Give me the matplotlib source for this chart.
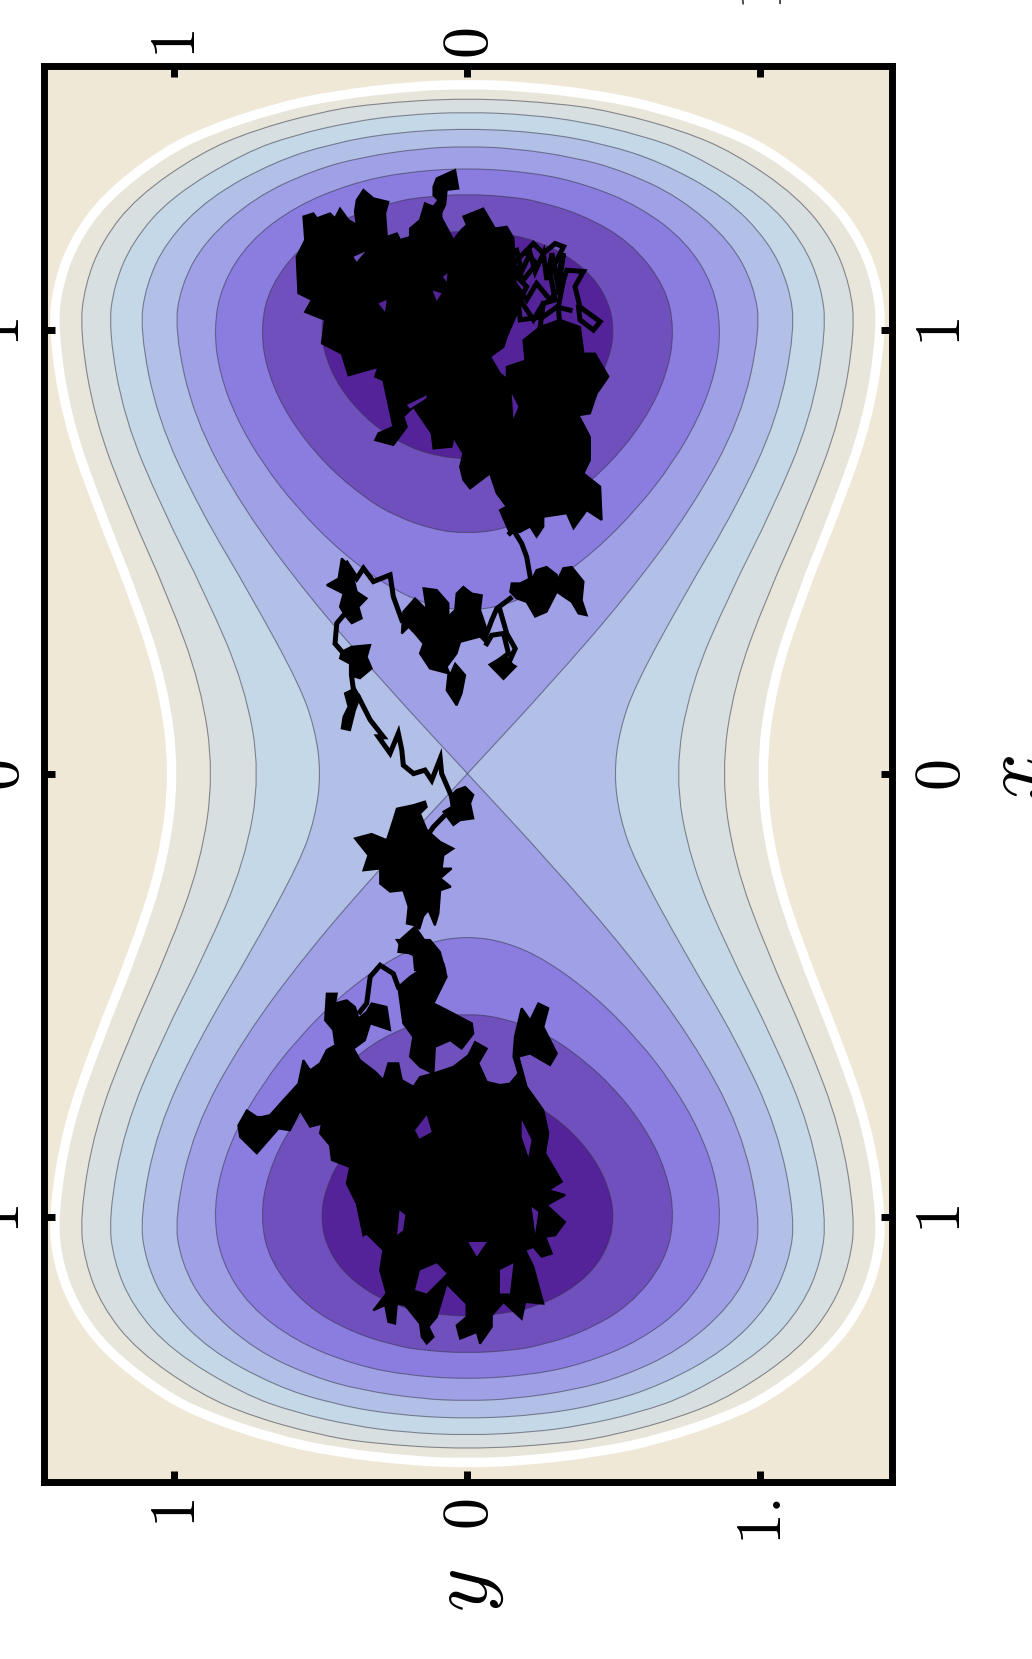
"""Double-well contour map with a two-well trajectory, drawn sideways."""

import matplotlib
matplotlib.use("Agg")
import matplotlib.pyplot as plt
import numpy as np
from matplotlib.patches import PathPatch
from matplotlib.path import Path
from matplotlib.transforms import ScaledTranslation

plt.rcParams["mathtext.fontset"] = "cm"

TICK_VALUES_X = [1, 0, -1]
TICK_VALUES_Y = [1, 0, -1]
BAND_COLORS = ["#e8e6da", "#d8dfe0", "#c5d8e8", "#b2bfe6", "#a0a0e6", "#8a7ddf", "#7050bd", "#54239a"]

# contour outlines, one quadrant each: (x, y)
C_200 = [(0, 1.0), (.2, 1.0385), (.4, 1.138), (.6, 1.261), (.8, 1.368), (1, 1.414), (1.1, 1.399), (1.2, 1.344),
         (1.3, 1.235), (1.4, 1.039), (1.45, .886), (1.5, .661), (1.53, .449), (1.55, .182), (1.554, 0)]
C_175 = [(0, .866), (.2, .91), (.4, 1.022), (.6, 1.158), (.8, 1.273), (1, 1.323), (1.1, 1.306), (1.2, 1.248),
         (1.3, 1.129), (1.4, .91), (1.45, .731), (1.49, .511), (1.51, .334), (1.524, 0)]
C_150 = [(0, .707), (.2, .761), (.4, .891), (.6, 1.044), (.8, 1.171), (1, 1.225), (1.1, 1.207), (1.2, 1.143),
         (1.3, 1.012), (1.4, .761), (1.44, .589), (1.47, .39), (1.485, .218), (1.492, 0)]
C_125 = [(0, .5), (.1, .52), (.2, .573), (.4, .738), (.6, .917), (.8, 1.058), (1, 1.118), (1.1, 1.098), (1.2, 1.028),
         (1.3, .88), (1.38, .657), (1.42, .466), (1.445, .257), (1.455, 0)]
C_100 = [(0, 0), (0, 0), (.2, .28), (.4, .543), (.6, .768), (.8, .933), (1, 1.0), (1.1, .978), (1.2, .898),
         (1.3, .724), (1.36, .527), (1.39, .362), (1.41, .154), (1.414, 0)]
C_075 = [(.366, 0), (.38, .134), (.42, .268), (.5, .433), (.6, .583), (.7, .7), (.8, .788), (.9, .845), (1, .866),
         (1.1, .84), (1.2, .746), (1.28, .585), (1.33, .398), (1.355, .226), (1.366, 0)]
C_050 = [(.541, 0), (.55, .116), (.58, .244), (.62, .348), (.7, .49), (.8, .609), (.9, .681), (1, .707),
         (1.1, .675), (1.2, .554), (1.26, .393), (1.29, .243), (1.3, .155), (1.307, 0)]
C_025 = [(.707, 0), (.72, .135), (.75, .242), (.8, .347), (.87, .437), (.94, .486), (1, .5), (1.06, .484),
         (1.12, .43), (1.17, .337), (1.2, .237), (1.215, .152), (1.225, 0)]

# trajectory, dense clumps as outlines and open stretches as lines: (y, x)
CLUMP_TOP = [(.56, 1.256), (.526, 1.263), (.514, 1.252), (.469, 1.263), (.452, 1.252), (.435, 1.274), (.406, 1.248),
             (.378, 1.237), (.384, 1.267), (.378, 1.293), (.355, 1.316), (.321, 1.297), (.27, 1.289), (.281, 1.263),
             (.275, 1.21), (.241, 1.218), (.23, 1.203), (.196, 1.21), (.196, 1.229), (.162, 1.248), (.145, 1.286),
             (.116, 1.278), (.093, 1.293), (.088, 1.252), (.048, 1.203), (.02, 1.226), (.002, 1.237), (.014, 1.256),
             (-.054, 1.274), (-.094, 1.229), (-.134, 1.233), (-.157, 1.207), (-.163, 1.128), (-.168, 1.037),
             (-.134, .985), (-.123, .962), (-.077, .94), (-.111, .902), (-.168, .872), (-.14, .842), (-.168, .797),
             (-.145, .767), (-.1, .707), (-.077, .677), (-.009, .643), (.014, .662), (.025, .692), (.014, .722),
             (.048, .759), (.054, .737), (.116, .733), (.122, .767), (.184, .827), (.219, .805), (.207, .782),
             (.253, .741), (.315, .752), (.304, .767), (.253, .782), (.287, .887), (.315, .895), (.304, .917),
             (.406, .898), (.429, .947), (.497, .97), (.486, 1.023), (.554, 1.041), (.531, 1.068), (.577, 1.083),
             (.583, 1.165), (.554, 1.203)]
CLUMP_TOP_RIGHT = [(-.191, .977), (-.248, 1.007), (-.316, 1.023), (-.384, 1.007), (-.396, .947), (-.435, .947),
                   (-.481, .895), (-.441, .857), (-.418, .812), (-.379, .808), (-.418, .759), (-.418, .707),
                   (-.396, .677), (-.453, .647), (-.458, .572), (-.407, .594), (-.362, .553), (-.339, .587),
                   (-.259, .579), (-.259, .557), (-.236, .534), (-.214, .557), (-.18, .545), (-.145, .542),
                   (-.111, .594), (-.134, .602), (-.1, .632), (-.077, .677), (-.145, .767), (-.202, .827), (-.202, .902)]
CLUMP_TOP_JOIN = [(-.134, .917), (-.202, .932), (-.214, .752), (-.134, .752)]
CLUMP_SPIKE = [(.116, 1.323), (.105, 1.342), (.042, 1.361), (.031, 1.319), (.071, 1.316), (.076, 1.282), (.099, 1.252),
               (.128, 1.267), (.099, 1.293), (.116, 1.304)]
CLUMP_C = [(-.151, .429), (-.18, .429), (-.225, .444), (-.236, .459), (-.27, .466), (-.305, .448), (-.305, .433),
           (-.327, .463), (-.356, .466), (-.396, .433), (-.39, .391), (-.407, .357), (-.379, .361), (-.356, .387),
           (-.305, .41), (-.27, .365), (-.231, .354), (-.202, .387), (-.168, .395), (-.146, .41)]
CLUMP_D = [(.224, .316), (.219, .365), (.179, .395), (.139, .369), (.15, .418), (.105, .414), (.065, .384),
           (.065, .354), (.042, .369), (.037, .406), (.014, .421), (-.015, .406), (-.049, .402), (-.043, .369),
           (-.066, .324), (-.066, .293), (-.043, .309), (.025, .297), (.037, .271), (.071, .241), (.059, .222),
           (.042, .248), (.008, .222), (.02, .181), (.037, .154), (.071, .188), (.065, .226), (.128, .237),
           (.162, .271), (.15, .293), (.179, .316), (.201, .331)]
CLUMP_BRANCH = [(-.083, .245), (-.111, .26), (-.14, .26), (-.157, .241), (-.123, .218)]
CLUMP_E = [(.429, .485), (.412, .474), (.389, .44), (.378, .41), (.344, .395), (.372, .376), (.361, .35), (.395, .339),
           (.418, .357), (.435, .376), (.423, .406), (.48, .425), (.44, .44)]
CLUMP_F = [(.429, .275), (.395, .286), (.332, .29), (.344, .263), (.327, .237), (.367, .215), (.401, .222),
           (.401, .248), (.435, .26)]
CLUMP_G = [(.418, .181), (.384, .192), (.367, .173), (.384, .143), (.401, .098), (.429, .102), (.423, .128), (.406, .151)]
CLUMP_H = [(.037, -.037), (.008, -.03), (-.02, -.048), (-.009, -.067), (-.02, -.101), (.025, -.105), (.048, -.116),
           (.082, -.086), (.054, -.075), (.059, -.052)]
CLUMP_I = [(.241, -.079), (.184, -.071), (.145, -.063), (.139, -.075), (.162, -.09), (.139, -.127), (.093, -.154),
           (.048, -.169), (.082, -.184), (.088, -.214), (.054, -.214), (.093, -.236), (.057, -.255), (.093, -.263),
           (.099, -.315), (.111, -.342), (.133, -.308), (.179, -.342), (.207, -.338), (.201, -.3), (.219, -.263),
           (.264, -.266), (.298, -.248), (.298, -.214), (.355, -.218), (.338, -.184), (.384, -.146), (.327, -.136),
           (.275, -.15), (.253, -.105)]
CLUMP_K = [(.179, -.345), (.139, -.383), (.082, -.428), (.076, -.443), (.179, -.443), (.184, -.406), (.236, -.402), (.23, -.375)]
CLUMP_U = [(.241, -.375), (.128, -.375), (.094, -.402), (.071, -.458), (.116, -.518), (.071, -.533), (-.015, -.563),
           (-.02, -.586), (.02, -.62), (.059, -.601), (.111, -.616), (.116, -.676), (.162, -.661), (.196, -.638),
           (.185, -.593), (.219, -.563), (.236, -.481), (.196, -.458), (.162, -.443), (.174, -.413), (.219, -.398)]
CLUMP_V = [(.48, -.496), (.446, -.496), (.452, -.518), (.412, -.511), (.384, -.526), (.372, -.552), (.344, -.537),
           (.327, -.518), (.276, -.526), (.264, -.578), (.332, -.563), (.35, -.601), (.389, -.62), (.452, -.608),
           (.458, -.578), (.486, -.556)]
CLUMP_BOTTOM = [(.753, -.759), (.719, -.774), (.702, -.774), (.674, -.77), (.628, -.736), (.577, -.699), (.56, -.646),
                (.537, -.669), (.503, -.653), (.48, -.623), (.44, -.608), (.389, -.62), (.367, -.646), (.315, -.672),
                (.287, -.691), (.27, -.653), (.236, -.653), (.224, -.691), (.184, -.706), (.162, -.684), (.116, -.676),
                (.048, -.661), (-.003, -.635), (-.026, -.605), (-.066, -.62), (-.037, -.653), (-.066, -.695),
                (-.111, -.702), (-.145, -.699), (-.174, -.676), (-.157, -.638), (-.162, -.593), (-.185, -.529),
                (-.214, -.556), (-.242, -.518), (-.276, -.529), (-.259, -.571), (-.305, -.631), (-.282, -.657),
                (-.214, -.631), (-.174, -.638), (-.202, -.706), (-.259, -.759), (-.276, -.811), (-.265, -.856),
                (-.322, -.92), (-.276, -.939), (-.333, -.95), (-.27, -.973), (-.333, -1.011), (-.299, -1.041),
                (-.265, -1.044), (-.288, -1.082), (-.253, -1.089), (-.225, -1.067), (-.197, -1.074), (-.225, -1.112),
                (-.259, -1.195), (-.197, -1.191), (-.185, -1.229), (-.123, -1.191), (-.083, -1.221), (-.083, -1.247),
                (-.043, -1.285), (-.032, -1.259), (.025, -1.274), (.037, -1.244), (.003, -1.225), (.003, -1.195),
                (.071, -1.15), (.105, -1.225), (.133, -1.247), (.116, -1.27), (.139, -1.285), (.156, -1.27),
                (.162, -1.24), (.213, -1.198), (.241, -1.195), (.247, -1.24), (.27, -1.236), (.281, -1.198),
                (.321, -1.21), (.276, -1.172), (.298, -1.119), (.287, -1.074), (.344, -1.037), (.355, -1.041),
                (.378, -.969), (.412, -.924), (.401, -.887), (.463, -.871), (.469, -.838), (.503, -.811), (.497, -.789),
                (.537, -.796), (.571, -.759), (.606, -.804), (.645, -.8), (.719, -.856), (.776, -.819), (.782, -.793)]

STRAND_LATTICE = [(-.157, 1.128), (-.202, 1.098), (-.18, 1.068), (-.225, 1.023), (-.259, 1.06), (-.299, 1.068),
                  (-.282, 1.128), (-.328, 1.188), (-.299, 1.195), (-.259, 1.173), (-.225, 1.195), (-.157, 1.15),
                  (-.191, 1.113), (-.236, 1.15), (-.202, 1.173)]
STRAND_LATTICE_2 = [(-.259, 1.06), (-.248, 1.007), (-.316, 1.007), (-.31, 1.052), (-.328, 1.113), (-.339, 1.135), (-.396, 1.132),
                    (-.367, 1.098), (-.384, 1.052), (-.453, 1.019), (-.43, 1.0), (-.384, 1.023), (-.379, 1.052)]
STRAND_LATTICE_3 = [(-.168, 1.18), (-.185, 1.132), (-.214, 1.173), (-.231, 1.132), (-.259, 1.173), (-.271, 1.113),
                    (-.288, 1.173), (-.305, 1.113), (-.328, 1.173), (-.31, 1.09), (-.282, 1.068), (-.236, 1.105),
                    (-.202, 1.068), (-.168, 1.098), (-.18, 1.023), (-.259, 1.03), (-.305, 1.052), (-.35, 1.045)]
STRAND_LINK = [(-.145, .542), (-.157, .549), (-.185, .519), (-.202, .489), (-.214, .444)]
STRAND_C_D = [(-.146, .395), (-.1, .372), (-.083, .346), (-.066, .316)]
STRAND_BRANCH = [(-.111, .369), (-.134, .316), (-.163, .282), (-.14, .248), (-.157, .241), (-.123, .218), (-.083, .245),
                 (-.111, .256), (-.14, .271), (-.123, .316), (-.083, .312), (-.066, .293)]
STRAND_D_E = [(.224, .346), (.253, .399), (.264, .448), (.321, .433), (.355, .463), (.378, .44), (.412, .474)]
STRAND_E_F = [(.423, .357), (.446, .339), (.452, .293), (.423, .271)]
STRAND_F_G = [(.395, .218), (.389, .188)]
STRAND_SADDLE = [(.372, .173), (.332, .121), (.287, .083), (.304, .083), (.264, .046), (.236, .091), (.224, .053),
                 (.219, .019), (.184, 0), (.145, .008), (.122, -.015), (.093, .034), (.088, 0), (.054, -.052)]
STRAND_H_I = [(.082, -.097), (.116, -.12), (.139, -.142)]
STRAND_I_K = [(.15, -.308), (.167, -.345)]
STRAND_LOOP = [(.236, -.481), (.253, -.451), (.298, -.432), (.332, -.458), (.344, -.518), (.367, -.537)]

# gaps in the dense clumps where the map shows through, with the band they show: (y, x)
GAPS_MID = [[(.349, 1.177), (.389, 1.165), (.378, 1.154)]]
GAPS_DEEP = [[(.119, 1.089), (.088, 1.083), (.105, 1.066)],
             [(.304, 1.06), (.276, 1.068), (.281, 1.041)],
             [(.084, 1.12), (.068, 1.128), (.071, 1.109)],
             [(.207, .831), (.139, .853), (.141, .846), (.196, .823)],
             [(-.151, .857), (-.174, .827), (-.157, .801)],
             [(.232, -.985), (.212, -.995), (.22, -1.03), (.24, -1.04)],
             [(.162, -1.12), (.105, -1.104), (.071, -1.127), (.139, -1.172), (.179, -1.164)],
             [(-.003, -1.056), (-.066, -1.056), (-.032, -1.089)],
             [(.179, -.804), (.139, -.77), (.122, -.808), (.164, -.823)],
             [(-.185, -.781), (-.219, -.826), (-.208, -.864), (-.185, -.819)],
             [(-.219, -.977), (-.242, -.988), (-.231, -1.037)],
             [(-.111, -1.119), (-.157, -1.104), (-.145, -1.172), (-.111, -1.172)]]

CLUMPS = [CLUMP_TOP, CLUMP_TOP_RIGHT, CLUMP_TOP_JOIN, CLUMP_SPIKE, CLUMP_C, CLUMP_D, CLUMP_BRANCH, CLUMP_E, CLUMP_F,
          CLUMP_G, CLUMP_H, CLUMP_I, CLUMP_K, CLUMP_U, CLUMP_V, CLUMP_BOTTOM]
STRANDS = [STRAND_LATTICE, STRAND_LATTICE_2, STRAND_LATTICE_3, STRAND_LINK, STRAND_C_D, STRAND_BRANCH, STRAND_D_E,
           STRAND_E_F, STRAND_F_G, STRAND_SADDLE, STRAND_H_I, STRAND_I_K, STRAND_LOOP]


def smooth_path(points):
    """Closed quadratic spline with the points as control points."""
    mids = (points + np.roll(points, -1, axis=0)) / 2
    verts = [mids[-1]]
    codes = [Path.MOVETO]
    for ctrl, end in zip(points, mids):
        verts += [ctrl, end]
        codes += [Path.CURVE3, Path.CURVE3]
    return Path(np.array(verts), codes)


def peanut_rings(quadrant):
    q = np.array(quadrant)[:, ::-1]  # (y, x) for the sideways axes
    sign_a = np.array([-1, 1])
    sign_b = np.array([-1, -1])
    sign_c = np.array([1, -1])
    ring = np.vstack([q, (q * sign_a)[-2::-1], (q * sign_b)[1:], (q * sign_c)[-2:0:-1]])
    return [ring]


def lobe_rings(quadrant):
    q = np.array(quadrant)[:, ::-1]
    ring = np.vstack([q, (q * np.array([-1, 1]))[-2:0:-1]])
    return [ring, ring * np.array([1, -1])]


def add_band(ax, rings, color, **kwargs):
    for ring in rings:
        ax.add_patch(PathPatch(smooth_path(ring), facecolor=color, **kwargs))


def shift_labels(labels, fig, dx, dy):
    offset = ScaledTranslation(dx / 100, dy / 100, fig.dpi_scale_trans)
    for lab in labels:
        lab.set_transform(lab.get_transform() + offset)


fig = plt.figure(figsize=(10.32, 16.59), dpi=100)
ax = fig.add_axes([43.5 / 1032, 1 - 1482 / 1659, (892 - 43.5) / 1032, (1482 - 65.7) / 1659])
ax.set_facecolor("#f0e8d7")
ax.set_xlim(1.447, -1.449)
ax.set_ylim(-1.597, 1.596)

line_style = dict(edgecolor="#33334488", linewidth=0.8)
add_band(ax, peanut_rings(C_200), BAND_COLORS[0], edgecolor="white", linewidth=6.8)
add_band(ax, peanut_rings(C_175), BAND_COLORS[1], **line_style)
add_band(ax, peanut_rings(C_150), BAND_COLORS[2], **line_style)
add_band(ax, peanut_rings(C_125), BAND_COLORS[3], **line_style)
add_band(ax, lobe_rings(C_100), BAND_COLORS[4], **line_style)
add_band(ax, lobe_rings(C_075), BAND_COLORS[5], **line_style)
add_band(ax, lobe_rings(C_050), BAND_COLORS[6], **line_style)
add_band(ax, lobe_rings(C_025), BAND_COLORS[7], **line_style)

for clump in CLUMPS:
    yy, xx = zip(*clump)
    ax.fill(yy, xx, facecolor="black", edgecolor="black", linewidth=1.5, joinstyle="miter", zorder=5)
for strand in STRANDS:
    yy, xx = zip(*strand)
    ax.plot(yy, xx, color="black", lw=3.6, solid_joinstyle="miter", zorder=5)
for gap in GAPS_MID:
    yy, xx = zip(*gap)
    ax.fill(yy, xx, color=BAND_COLORS[6], lw=0, zorder=6)
for gap in GAPS_DEEP:
    yy, xx = zip(*gap)
    ax.fill(yy, xx, color=BAND_COLORS[7], lw=0, zorder=6)

for spine in ax.spines.values():
    spine.set_linewidth(5)
    spine.set_zorder(10)

ax.set_xticks(TICK_VALUES_Y, ["$1$", "$0$", "$1.$"])
ax.set_yticks(TICK_VALUES_X, ["$1$", "$0$", "$1$"])
ax.tick_params(direction="in", length=7.9, width=5, top=True, right=True, left=True, bottom=True,
               labelleft=False, labelright=True, labelsize=46, labelrotation=90, zorder=10)
ax.tick_params(axis="x", pad=12)
ax.tick_params(axis="y", pad=13.5)
for lab in ax.get_yticklabels():
    lab.set_verticalalignment("center")
shift_labels(ax.get_xticklabels(), fig, 3, 0)
shift_labels(ax.get_yticklabels(), fig, 0, -2)

sec_top = ax.secondary_xaxis("top")
sec_top.set_xticks(TICK_VALUES_Y[:2], ["$1$", "$0$"])
sec_top.tick_params(length=0, labelsize=46, labelrotation=90, pad=4.5)
sec_top.spines["top"].set_visible(False)
shift_labels(sec_top.get_xticklabels(), fig, 3, 0)
stray = ax.text(-1, 1 + (65.7 - 10) / 1416.3, "$1$", transform=ax.get_xaxis_transform(), rotation=90,
                ha="center", va="bottom", fontsize=46, color="#444444")
shift_labels([stray], fig, 4, 0)

sec_left = ax.secondary_yaxis("left")
sec_left.set_yticks(TICK_VALUES_X, ["$1$", "$0$", "$1$"])
sec_left.tick_params(length=0, labelsize=46, labelrotation=90, pad=8)
sec_left.spines["left"].set_visible(False)
for lab in sec_left.get_yticklabels():
    lab.set_verticalalignment("center")
shift_labels(sec_left.get_yticklabels(), fig, 0, -2)

fig.text(466 / 1032, 1 - 1591 / 1659, "$y$", fontsize=60, rotation=90, ha="center", va="center")
fig.text(1017 / 1032, 1 - 778 / 1659, "$x$", fontsize=60, rotation=90, ha="center", va="center")

fig.savefig("out.png", dpi=100)
